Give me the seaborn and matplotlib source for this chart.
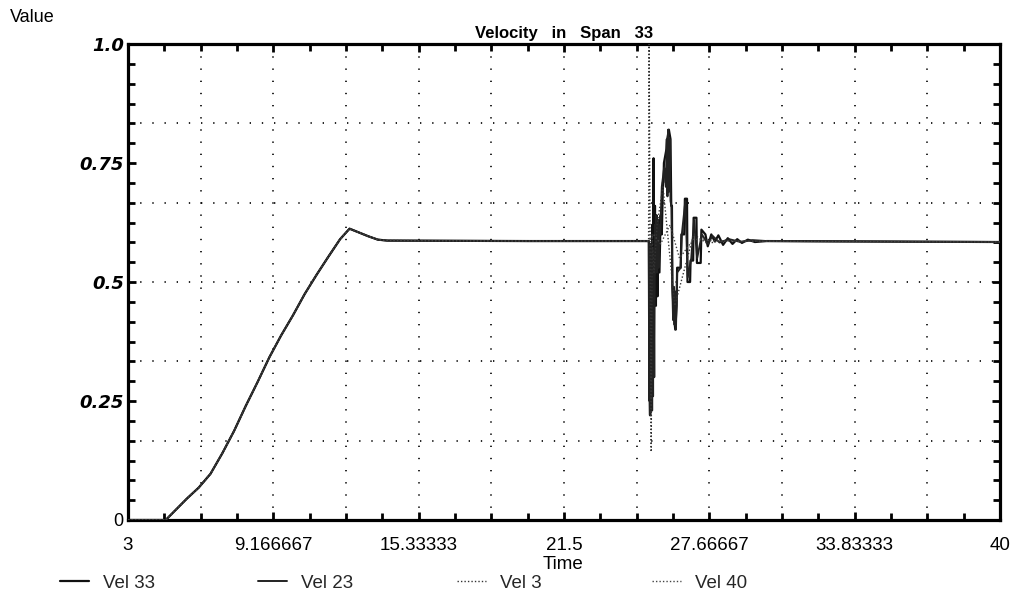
import matplotlib
matplotlib.use("Agg")
import matplotlib.pyplot as plt
from matplotlib.ticker import FixedLocator, MultipleLocator
import numpy as np
import pandas as pd
import seaborn as sns

# ---------------- data ----------------
ramp_time = [3.0, 4.6, 5.0, 5.5, 6.0, 6.5, 7.0, 7.5, 8.0, 8.5, 9.0, 9.5, 10.0,
             10.5, 11.0, 11.5, 12.0, 12.4, 12.8, 13.2, 13.6, 14.0, 20.0, 25.08]
ramp_vel = [0.0, 0.0, 0.02, 0.045, 0.068, 0.097, 0.14, 0.187, 0.24, 0.29, 0.342,
            0.388, 0.43, 0.475, 0.515, 0.553, 0.59, 0.612, 0.604, 0.596, 0.589,
            0.587, 0.586, 0.586]

vel33_time = [25.10, 25.12, 25.15, 25.18, 25.21, 25.24, 25.27, 25.30, 25.33, 25.36,
              25.40, 25.43, 25.47, 25.50, 25.55, 25.60, 25.65, 25.70, 25.72, 25.74,
              25.85, 25.88, 25.95, 26.02, 26.05, 26.08, 26.10, 26.15, 26.22, 26.28,
              26.30, 26.45, 26.48, 26.60, 26.63, 26.72, 26.74, 26.85, 26.87, 26.98,
              27.00, 27.12, 27.14, 27.30, 27.33, 27.50, 27.60, 27.75, 27.90, 28.05,
              28.25, 28.45, 28.65, 28.85, 29.05, 29.30, 29.60, 30.10, 40.0]
vel33_vel = [0.586, 0.30, 0.22, 0.55, 0.25, 0.62, 0.35, 0.76, 0.45, 0.66,
             0.45, 0.64, 0.47, 0.63, 0.52, 0.64, 0.60, 0.71, 0.71, 0.75,
             0.78, 0.80, 0.82, 0.80, 0.66, 0.66, 0.49, 0.44, 0.40, 0.45,
             0.53, 0.53, 0.60, 0.60, 0.675, 0.675, 0.50, 0.50, 0.545, 0.545,
             0.635, 0.635, 0.54, 0.54, 0.61, 0.60, 0.575, 0.60, 0.585, 0.598,
             0.578, 0.592, 0.58, 0.59, 0.582, 0.589, 0.584, 0.586, 0.584]

vel23_time = [25.10, 25.12, 25.14, 25.16, 25.18, 25.20, 25.22, 25.24, 25.26, 25.28,
              25.30, 25.33, 25.36, 25.39, 25.42, 25.45, 25.48, 25.51, 25.54, 25.58,
              25.65, 25.75, 25.82, 25.86, 25.89, 25.92, 25.95, 25.98, 26.02, 26.06,
              26.10, 26.13, 26.16, 26.19, 26.22, 26.25, 26.30, 26.45, 26.50, 26.65,
              26.75, 26.90, 27.02, 27.15, 27.35, 27.60, 27.80, 28.10, 28.50, 29.00,
              29.50, 30.10, 40.0]
vel23_vel = [0.586, 0.25, 0.55, 0.22, 0.58, 0.25, 0.56, 0.23, 0.57, 0.26,
             0.55, 0.30, 0.62, 0.52, 0.64, 0.52, 0.63, 0.53, 0.62, 0.60,
             0.70, 0.74, 0.70, 0.80, 0.68, 0.82, 0.69, 0.80, 0.67, 0.66,
             0.48, 0.42, 0.49, 0.41, 0.48, 0.40, 0.52, 0.53, 0.60, 0.67,
             0.51, 0.55, 0.63, 0.55, 0.60, 0.58, 0.597, 0.583, 0.59, 0.584,
             0.588, 0.586, 0.584]

vel3_time = [25.09, 25.11, 25.20, 25.24, 25.32, 25.45, 25.70, 26.20, 27.00, 27.60,
             28.00, 40.0]
vel3_vel = [0.586, 1.0, 0.143, 0.60, 0.52, 0.62, 0.70, 0.45, 0.60, 0.58,
            0.586, 0.584]

vel40_time = [25.10, 25.30, 25.60, 26.00, 26.40, 27.00, 28.00, 40.0]
vel40_vel = [0.586, 0.60, 0.58, 0.62, 0.55, 0.59, 0.586, 0.584]

series_names = ["Vel 33", "Vel 23", "Vel 3", "Vel 40"]
x_tick_labels = ["3", "9.166667", "15.33333", "21.5", "27.66667", "33.83333", "40"]
y_tick_values = [0, 0.25, 0.5, 0.75, 1.0]
y_tick_labels = ["0", "0.25", "0.5", "0.75", "1.0"]
x_min, x_max = 3.0, 40.0

# ---------------- style ----------------
sns.set_theme(style="white")
plt.rcParams["font.family"] = ["Liberation Sans", "DejaVu Sans"]

fig = plt.figure(figsize=(10.1, 5.92), dpi=100)
ax = fig.add_axes([128 / 1010, 1 - 520 / 592, 872 / 1010, 476 / 592])

# gridlines (dotted, sparse)
x_step = (x_max - x_min) / 12
for k in range(1, 12):
    ax.axvline(x_min + k * x_step, color="black", lw=1.2, ls=(0, (0.8, 6.5)), zorder=1)
for k in range(1, 6):
    ax.axhline(k / 6, color="black", lw=1.2, ls=(0, (0.8, 6.5)), zorder=1)

time_lists = [vel33_time, vel23_time, vel3_time, vel40_time]
vel_lists = [vel33_vel, vel23_vel, vel3_vel, vel40_vel]
frames = []
for name, tl, vl in zip(series_names, time_lists, vel_lists):
    frames.append(pd.DataFrame({"Time": ramp_time + tl, "Value": ramp_vel + vl,
                                "Series": name}))
df = pd.concat(frames, ignore_index=True)

styles = {
    "Vel 33": dict(color="#111111", lw=1.6, ls="-"),
    "Vel 23": dict(color="#222222", lw=1.4, ls="-"),
    "Vel 3": dict(color="#333333", lw=1.0, ls=(0, (1, 1.5))),
    "Vel 40": dict(color="#444444", lw=1.0, ls=(0, (1, 1.5))),
}
handles = {}
for name in series_names:
    sub = df[df["Series"] == name]
    st = styles[name]
    sns.lineplot(data=sub, x="Time", y="Value", ax=ax, estimator=None, sort=False,
                 color=st["color"], linewidth=st["lw"], linestyle=st["ls"],
                 zorder=3, legend=False)
    handles[name] = ax.lines[-1]

ax.set_xlim(x_min, x_max)
ax.set_ylim(0, 1.0)

# ticks
ax.xaxis.set_major_locator(FixedLocator([x_min + k * 2 * x_step for k in range(7)]))
ax.set_xticklabels(x_tick_labels)
ax.xaxis.set_minor_locator(FixedLocator([x_min + k * x_step / 2 for k in range(25)]))
ax.yaxis.set_major_locator(FixedLocator(y_tick_values))
ax.set_yticklabels(y_tick_labels)
ax.yaxis.set_minor_locator(MultipleLocator(1 / 24))

ax.tick_params(which="both", direction="in", top=True, right=True, bottom=True,
               left=True, color="black", width=2.0)
ax.tick_params(which="major", length=6)
ax.tick_params(which="minor", length=5)
ax.tick_params(axis="x", which="major", pad=12, labelsize=13.5, labelcolor="black")
ax.tick_params(axis="y", which="major", pad=3, labelsize=13, labelcolor="black")
for lab in ax.get_yticklabels():
    if lab.get_text() != "0":
        lab.set_fontstyle("italic")
        lab.set_fontweight("bold")
        lab.set_family(["DejaVu Sans"])

for sp in ax.spines.values():
    sp.set_visible(True)
    sp.set_color("black")
    sp.set_linewidth(2.3)

ax.set_title("Velocity   in   Span   33", fontsize=12, fontweight="bold", pad=4,
             color="black")
ax.set_xlabel("Time", fontsize=13.5, color="black")
ax.xaxis.set_label_coords(0.499, -0.076)
ax.set_ylabel("")
fig.text(10 / 1010, 1 - 18 / 592, "Value", fontsize=13, va="center", ha="left",
         color="black")

legend_x = [60, 258, 457, 652]
for name, lx in zip(series_names, legend_x):
    fig.legend([handles[name]], [name], loc="center left",
               bbox_to_anchor=(lx / 1010, 1 - 583 / 592), frameon=False,
               fontsize=13.5, handlelength=1.55, handletextpad=0.75,
               borderpad=0, borderaxespad=0)

fig.savefig("out.png", dpi=100, facecolor="white")
